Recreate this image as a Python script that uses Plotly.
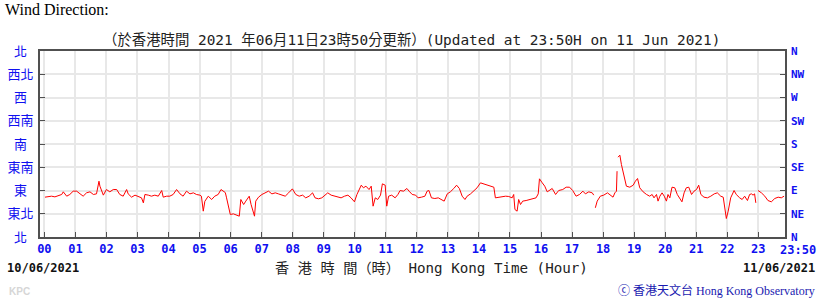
import plotly.graph_objects as go

# ---- data (hours since 00:00 on 10/06/2021, wind direction in degrees; None = gap)
hours = [0.02,0.13,0.23,0.34,0.45,0.56,0.61,0.72,0.82,0.93,1.04,1.15,1.25,1.36,1.47,1.58,1.68,1.76,1.79,1.90,
         2.00,2.11,2.22,2.33,2.43,2.54,2.65,2.70,2.81,2.92,3.02,3.13,3.19,3.24,3.35,3.45,3.56,3.67,3.78,3.83,
         3.94,4.04,4.15,4.26,4.37,4.47,4.58,4.69,4.80,4.90,5.01,5.06,5.12,5.17,5.28,5.39,5.49,5.60,5.69,5.76,
         5.83,5.87,5.93,5.99,6.09,6.20,6.28,6.33,6.42,6.49,6.60,6.66,6.74,6.77,6.81,6.90,7.01,7.11,7.22,7.33,
         7.44,7.54,7.65,7.76,7.87,7.99,8.10,8.21,8.32,8.42,8.53,8.64,8.72,8.83,8.94,9.05,9.13,9.24,9.35,9.45,
         9.56,9.67,9.78,9.88,9.99,10.07,10.14,10.21,10.28,10.36,10.46,10.53,10.59,10.66,10.74,10.83,10.89,10.98,11.03,11.09,
         11.19,11.30,11.39,11.46,11.57,11.68,11.75,11.85,11.96,12.04,12.15,12.26,12.33,12.39,12.47,12.58,12.69,12.79,12.88,12.98,
         13.08,13.19,13.28,13.37,13.46,13.55,13.62,13.73,13.84,13.94,14.05,14.16,14.26,14.37,14.48,14.53,14.64,14.75,14.86,14.96,
         15.07,15.12,15.16,15.23,15.28,15.34,15.41,15.52,15.63,15.74,15.84,15.91,15.95,16.04,16.12,16.20,16.27,16.36,16.47,16.57,
         16.70,16.81,16.92,17.02,17.13,17.24,17.35,17.43,17.54,17.65,17.70,17.72,17.75,17.81,17.91,18.02,18.14,18.25,18.32,18.38,
         18.43,18.45,18.47,18.48,18.54,18.59,18.68,18.75,18.86,18.97,19.04,19.11,19.18,19.29,19.40,19.50,19.58,19.64,19.72,19.77,
         19.83,19.90,19.97,20.04,20.09,20.15,20.22,20.31,20.39,20.47,20.54,20.61,20.68,20.76,20.85,20.93,21.01,21.08,21.15,21.25,
         21.36,21.47,21.58,21.68,21.79,21.87,21.92,21.97,22.03,22.11,22.22,22.29,22.40,22.48,22.56,22.65,22.72,22.78,22.83,22.88,
         22.92,22.95,22.99,23.10,23.21,23.31,23.42,23.53,23.64,23.74,23.83]
direction = [77.1,78.4,79,77.7,80.3,82.3,87.4,79,82.3,88.7,88.7,83.5,79,85.5,87.4,82.3,83.5,108,98.4,81,
             91.9,87.4,91.9,91.9,82.3,79,91.9,83.5,77.1,81,78.4,75.8,66.1,82.3,81,79,81,79,90,77.1,
             79,79,82.3,91.9,83.5,79,88.7,83.5,85.5,82.3,81,79,50,69.1,79,72.6,79,82.3,91.9,88.7,
             86,75.8,56.5,43.6,44.8,42.3,40.3,72.6,62.9,69.4,79.0,62.9,43.6,40.3,69.4,77.1,82.3,85.5,88.7,83.5,
             85.5,83.5,81.0,79.0,85.5,93.2,82.3,79.0,81.0,75.8,79.0,85.5,75.8,73.9,75.8,81.0,85.5,81.0,79.0,77.1,
             75.8,79.0,81.0,75.8,68.1,82.3,91.9,100.3,95.2,98.4,91.9,98.4,59.7,75.8,72.6,81.0,102.9,100.3,59.7,79.0,
             81.0,75.8,82.3,90.0,88.7,93.9,88.7,82.3,81.0,75.8,77.1,79.0,88.7,90.0,75.8,74.5,75.8,72.6,69.4,83.5,
             87.4,93.9,100.3,93.9,79.0,72.6,79.0,83.5,90.0,95.2,104.8,102.9,100.3,98.4,96.4,75.8,77.1,77.1,79.0,78.4,
             75.8,82.3,53.2,50.0,72.6,62.9,69.4,70.6,72.6,74.5,75.8,83.5,112.6,104.8,98.4,87.4,90.0,93.9,82.3,90.0,
             91.9,96.4,96.4,90.0,79.0,82.3,88.7,83.5,87.4,85.5,81.0,None,56.5,69.4,79.0,81.0,85.5,81.0,77.1,85.5,
             88.7,127.4,None,154.5,158.4,140.3,114.5,98.4,96.4,100.3,108.0,113.2,95.2,87.4,82.3,79.0,82.3,75.8,82.3,69.4,
             79.0,85.5,79.0,69.4,82.3,75.8,96.4,95.2,82.3,75.8,68.1,85.5,95.2,96.4,82.3,88.7,91.9,100.3,82.3,77.1,
             75.8,79.0,83.5,85.5,79.0,77.1,56.5,35.8,50.0,75.8,90.0,82.3,75.8,72.6,79.0,70.6,82.3,83.5,81.0,83.5,
             66.1,None,90.0,85.5,79.0,70.6,68.1,74.5,77.1,75.8,79.0]

dir_values = [0, 45, 90, 135, 180, 225, 270, 315, 360]
dir_labels_zh = ["北", "東北", "東", "東南", "南", "西南", "西", "西北", "北"]
dir_labels_en = ["N", "NE", "E", "SE", "S", "SW", "W", "NW", "N"]
hour_values = list(range(24))
hour_labels = ["00","01","02","03","04","05","06","07","08","09","10","11",
               "12","13","14","15","16","17","18","19","20","21","22","23"]
end_label = "23:50"

title_text = "（於香港時間 2021 年06月11日23時50分更新）(Updated at 23:50H on 11 Jun 2021)"
axis_title = "香 港 時 間（時） Hong Kong Time (Hour)"
start_date = "10/06/2021"
end_date = "11/06/2021"

# pad single-character Chinese labels so they sit centred like the original
zh_ticktext = [t if len(t) == 2 else t + "\u2002" for t in dir_labels_zh]

BLUE = "#1010f0"
CJK = "Noto Sans CJK TC"
MONO = "DejaVu Sans Mono"
AXC = "#505050"

fig = go.Figure()
fig.add_trace(go.Scatter(x=hours, y=direction, mode="lines",
                         line=dict(color="#ff0000", width=1), connectgaps=False,
                         showlegend=False, hoverinfo="skip"))
# invisible trace to activate the right-hand axis
fig.add_trace(go.Scatter(x=[hours[0]], y=[direction[0]], yaxis="y2", mode="markers",
                         marker=dict(opacity=0), showlegend=False, hoverinfo="skip"))

L, R, T, B = 40, 35, 51, 65
W, H = 820, 302
pw, ph = W - L - R, H - T - B

def px(x):
    return (x - L) / pw

def py(y):
    return (H - B - y) / ph

fig.update_layout(
    width=W, height=H,
    margin=dict(l=L, r=R, t=T, b=B, pad=0, autoexpand=False),
    paper_bgcolor="white", plot_bgcolor="white",
    xaxis=dict(range=[-0.14, 23.86], tickvals=hour_values, ticktext=hour_labels,
               showgrid=True, gridcolor="#e8e8e8", gridwidth=1.5,
               ticks="inside", ticklen=5, tickwidth=1, tickcolor=AXC,
               showline=True, linecolor=AXC, linewidth=2, mirror=True,
               zeroline=False, automargin=False,
               tickfont=dict(family=MONO, size=12, color=BLUE, weight="bold")),
    yaxis=dict(range=[0, 360], tickvals=dir_values, ticktext=zh_ticktext,
               showgrid=True, gridcolor="#e8e8e8", gridwidth=1.5,
               ticks="inside", ticklen=5, tickwidth=1, tickcolor=AXC,
               showline=True, linecolor=AXC, linewidth=2, mirror="ticks",
               zeroline=False, ticklabelstandoff=2, automargin=False,
               tickfont=dict(family=CJK, size=13, color=BLUE)),
    yaxis2=dict(range=[0, 360], tickvals=dir_values, ticktext=dir_labels_en,
                overlaying="y", side="right", showgrid=False, zeroline=False,
                ticks="", ticklabelstandoff=5, showline=False, automargin=False,
                tickfont=dict(family=MONO, size=11, color=BLUE, weight="bold")),
    shapes=[dict(type="line", xref="x", yref="paper", x0=0, x1=0, y0=0, y1=1,
                 line=dict(color="#cccccc", width=1.2, dash="dash"), layer="below")],
)

ann = [
    dict(text="Wind Direction:", x=px(3), y=py(10), xanchor="left",
         font=dict(family="Liberation Serif", size=16, color="#000")),
    dict(text=title_text, x=px(411), y=py(40), xanchor="center",
         font=dict(family=MONO + ", " + CJK, size=14.4, color="#222")),
    dict(text=start_date, x=px(5), y=py(268), xanchor="left",
         font=dict(family=MONO, size=12, color="#111", weight="bold")),
    dict(text=end_date, x=px(817), y=py(268), xanchor="right",
         font=dict(family=MONO, size=12, color="#111", weight="bold")),
    dict(text=axis_title, x=px(273), y=py(268), xanchor="left",
         font=dict(family=MONO + ", " + CJK, size=14.2, color="#222")),
    dict(text=end_label, x=px(778), y=py(250), xanchor="left",
         font=dict(family=MONO, size=12, color=BLUE, weight="bold")),
    dict(text="KPC", x=px(7), y=py(291), xanchor="left",
         font=dict(family="Liberation Sans", size=10, color="#d6d6d6", weight="bold")),
    dict(text="ⓒ 香港天文台 Hong Kong Observatory", x=px(817), y=py(290), xanchor="right",
         font=dict(family="Liberation Serif, " + CJK, size=12, color="#1a1ab0")),
]
for a in ann:
    a.update(xref="paper", yref="paper", yanchor="middle", showarrow=False)
fig.update_layout(annotations=ann)

fig.write_html("out.html")
